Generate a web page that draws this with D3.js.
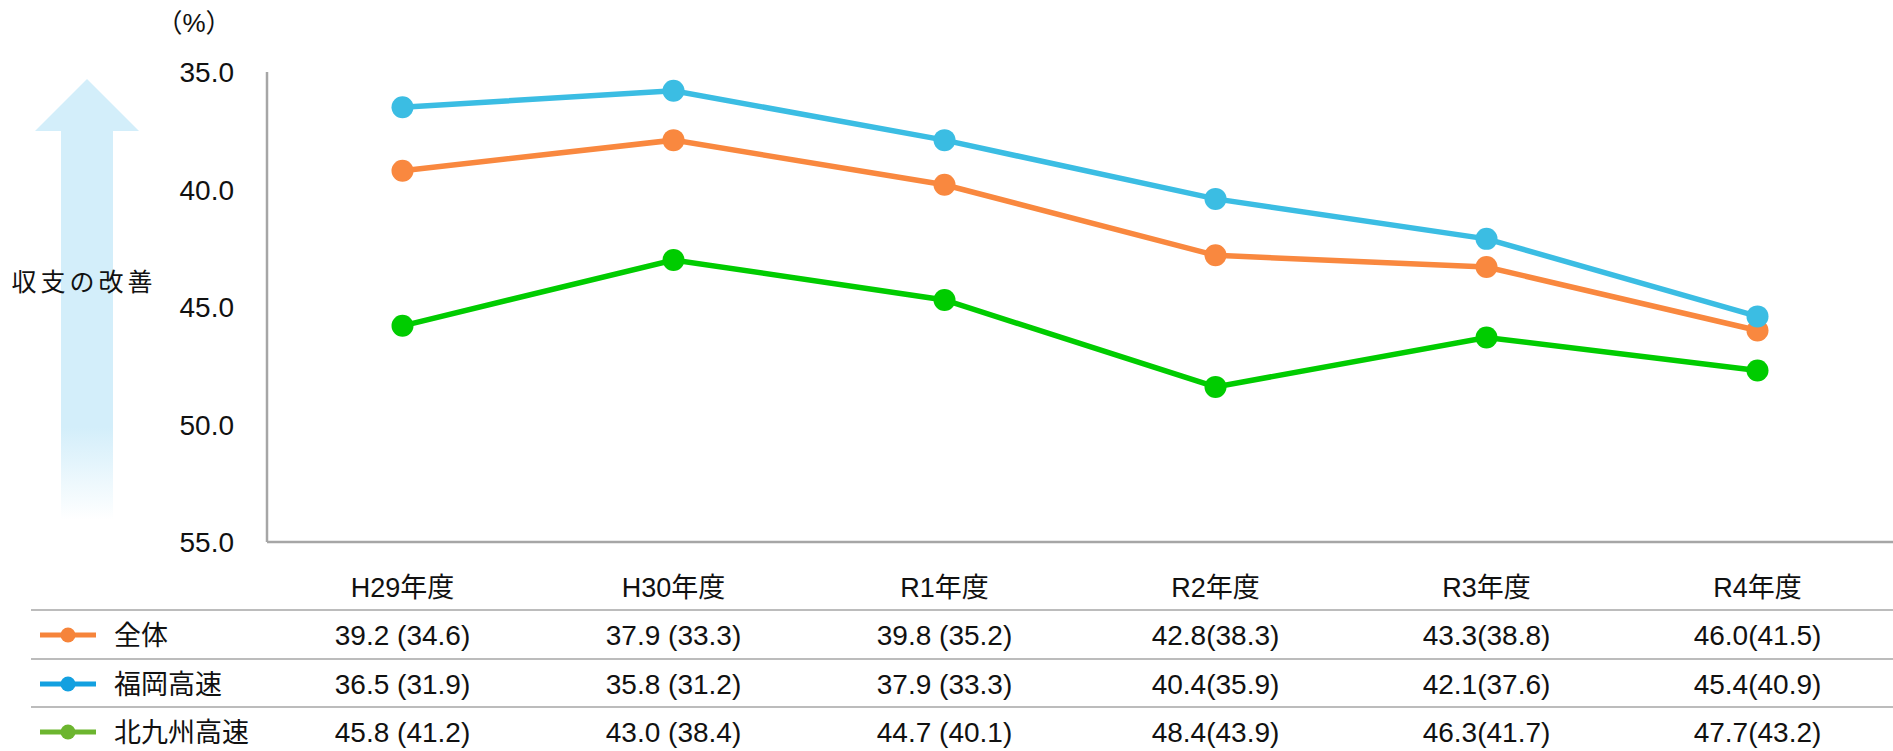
<!DOCTYPE html>
<html>
<head>
<meta charset="utf-8">
<script src="https://cdn.jsdelivr.net/npm/d3@7"></script>
<style>
body { margin: 0; background: #fff; }
svg text { font-family: "Liberation Sans", Arial, "Noto Sans CJK JP", sans-serif; fill: #111; }
</style>
</head>
<body>
<script>
// 年度
var years = ["H29年度", "H30年度", "R1年度", "R2年度", "R3年度", "R4年度"];
var seriesNames = ["全体", "福岡高速", "北九州高速"];
// values plotted on the chart
var zentai = [39.2, 37.9, 39.8, 42.8, 43.3, 46.0];
var fukuoka = [36.5, 35.8, 37.9, 40.4, 42.1, 45.4];
var kitakyu = [45.8, 43.0, 44.7, 48.4, 46.3, 47.7];
// values in brackets in the table
var zentaiSub = [34.6, 33.3, 35.2, 38.3, 38.8, 41.5];
var fukuokaSub = [31.9, 31.2, 33.3, 35.9, 37.6, 40.9];
var kitakyuSub = [41.2, 38.4, 40.1, 43.9, 41.7, 43.2];
var yTicks = [35, 40, 45, 50, 55];

var lineColors = ["#f9883f", "#3bbde3", "#00cc00"];
var legendColors = ["#f6843a", "#13a0e0", "#6cb52f"];

var W = 1893, H = 751;
var svg = d3.select("body").append("svg").attr("width", W).attr("height", H);

var x = d3.scaleBand().domain(years).range([267, 1893]);
var y = d3.scaleLinear().domain([35, 55]).range([72, 542]);

// arrow on the left
var defs = svg.append("defs");
var grad = defs.append("linearGradient").attr("id", "fade")
	.attr("x1", 0).attr("x2", 0)
	.attr("gradientUnits", "userSpaceOnUse")
	.attr("y1", 79).attr("y2", 520);
grad.append("stop").attr("offset", "0").attr("stop-color", "#d3eefa");
grad.append("stop").attr("offset", "0.79").attr("stop-color", "#d3eefa");
grad.append("stop").attr("offset", "1").attr("stop-color", "#ffffff");
svg.append("path")
	.attr("d", "M87,79 L139,131 L113,131 L113,520 L61,520 L61,131 L35,131 Z")
	.attr("fill", "url(#fade)");
svg.append("text").attr("x", 84).attr("y", 291)
	.attr("text-anchor", "middle")
	.style("font-size", "25px").style("letter-spacing", "4px")
	.text("収支の改善");

// axes
svg.append("line").attr("x1", 267).attr("x2", 267).attr("y1", y(35)).attr("y2", y(55))
	.attr("stroke", "#a6a6a6").attr("stroke-width", 2.5);
svg.append("line").attr("x1", 267).attr("x2", W).attr("y1", y(55)).attr("y2", y(55))
	.attr("stroke", "#a6a6a6").attr("stroke-width", 2.5);
svg.selectAll("text.ytick").data(yTicks).enter().append("text")
	.attr("class", "ytick")
	.attr("x", 234).attr("y", function(d){ return y(d) + 10; })
	.attr("text-anchor", "end")
	.style("font-size", "28px")
	.text(function(d){ return d3.format(".1f")(d); });
svg.append("text").attr("x", 194).attr("y", 32).attr("text-anchor", "middle")
	.style("font-size", "26px").text("（%）");

// lines
var allSeries = [zentai, fukuoka, kitakyu];
var line = d3.line()
	.x(function(d, i){ return x(years[i]) + x.bandwidth() / 2; })
	.y(function(d){ return y(d); });
allSeries.forEach(function(s, k){
	var g = svg.append("g");
	g.append("path").datum(s).attr("d", line)
		.attr("fill", "none").attr("stroke", lineColors[k]).attr("stroke-width", 5.5);
	g.selectAll("circle").data(s).enter().append("circle")
		.attr("cx", function(d, i){ return x(years[i]) + x.bandwidth() / 2; })
		.attr("cy", function(d){ return y(d); })
		.attr("r", 11).attr("fill", lineColors[k]);
});

// table under the chart
svg.selectAll("text.year").data(years).enter().append("text")
	.attr("class", "year")
	.attr("x", function(d){ return x(d) + x.bandwidth() / 2; })
	.attr("y", 597).attr("text-anchor", "middle")
	.style("font-size", "27px")
	.text(function(d){ return d; });

var subs = [zentaiSub, fukuokaSub, kitakyuSub];
var rowLines = [610, 659, 707];
var f = d3.format(".1f");
rowLines.forEach(function(ly, k){
	svg.append("line").attr("x1", 31).attr("x2", W).attr("y1", ly).attr("y2", ly)
		.attr("stroke", "#bcbcbc").attr("stroke-width", 2);
	var cy = ly + 25;
	svg.append("line").attr("x1", 40).attr("x2", 96).attr("y1", cy).attr("y2", cy)
		.attr("stroke", legendColors[k]).attr("stroke-width", 5);
	svg.append("circle").attr("cx", 68).attr("cy", cy).attr("r", 7.5).attr("fill", legendColors[k]);
	svg.append("text").attr("x", 114).attr("y", cy + 10)
		.style("font-size", "27px").text(seriesNames[k]);
	svg.selectAll("text.v" + k).data(allSeries[k]).enter().append("text")
		.attr("class", "v" + k)
		.attr("x", function(d, i){ return x(years[i]) + x.bandwidth() / 2; })
		.attr("y", cy + 10).attr("text-anchor", "middle")
		.style("font-size", "28px")
		.text(function(d, i){
			return f(d) + (i < 3 ? " (" : "(") + f(subs[k][i]) + ")";
		});
});
</script>
</body>
</html>
